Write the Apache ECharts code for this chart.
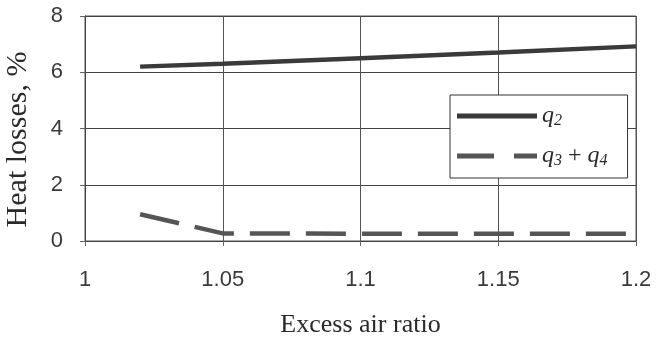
<!DOCTYPE html>
<html>
<head>
<meta charset="utf-8">
<script src="https://cdn.jsdelivr.net/npm/echarts@6/dist/echarts.min.js"></script>
<style>
  html, body { margin: 0; padding: 0; background: #fff; }
  #chart { width: 656px; height: 340px; }
</style>
</head>
<body>
<div id="chart"></div>
<script>
// values
var excessAir = [1.02, 1.05, 1.1, 1.15, 1.2];
var q2 = [6.2, 6.3, 6.5, 6.7, 6.92];
var q3q4 = [0.95, 0.27, 0.26, 0.26, 0.26];
var xTicks = [1, 1.05, 1.1, 1.15, 1.2];
var yTicks = [0, 2, 4, 6, 8];

function pairs(xs, ys) {
    return xs.map(function (x, i) { return [x, ys[i]]; });
}

var chartDom = document.getElementById('chart');
var myChart = echarts.init(chartDom);
var option = {
    animation: false,
    grid: {
        left: 85, right: 20, top: 16, bottom: 99,
        outerBoundsMode: 'none',
        containLabel: false,
        show: true,
        borderColor: '#555',
        borderWidth: 1
    },
    xAxis: {
        type: 'value',
        min: xTicks[0],
        max: xTicks[xTicks.length - 1],
        interval: 0.05,
        name: 'Excess air ratio',
        nameLocation: 'middle',
        nameGap: 71,
        nameTextStyle: { fontFamily: 'Liberation Serif', fontSize: 26, color: '#2a2a2a' },
        axisLine: { show: true, lineStyle: { color: '#444', width: 1 } },
        axisTick: { show: true, inside: false, length: 5, lineStyle: { color: '#666' } },
        axisLabel: {
            margin: 28,
            fontFamily: 'Liberation Sans', fontSize: 22, color: '#3a3a3a',
            formatter: function (v) { return String(parseFloat(v.toFixed(2))); }
        },
        splitLine: { show: true, lineStyle: { color: '#555', width: 1 } }
    },
    yAxis: {
        type: 'value',
        min: yTicks[0],
        max: yTicks[yTicks.length - 1],
        interval: 2,
        name: 'Heat losses, %',
        nameLocation: 'middle',
        nameGap: 52,
        nameRotate: 90,
        nameTextStyle: { fontFamily: 'Liberation Serif', fontSize: 30, color: '#2a2a2a', padding: [0, 22, 0, 0] },
        axisLine: { show: true, lineStyle: { color: '#444', width: 1 } },
        axisTick: { show: true, length: 5, lineStyle: { color: '#666' } },
        axisLabel: { margin: 22, fontFamily: 'Liberation Sans', fontSize: 22, color: '#3a3a3a' },
        splitLine: { show: true, lineStyle: { color: '#444', width: 1 } }
    },
    legend: {
        orient: 'vertical',
        left: 450,
        top: 95,
        padding: [8, 20, 9, 7],
        itemGap: 14,
        itemWidth: 80,
        itemHeight: 5,
        backgroundColor: '#fff',
        borderColor: '#333',
        borderWidth: 1,
        textStyle: {
            fontFamily: 'Liberation Serif', fontSize: 24, color: '#2a2a2a', lineHeight: 26,
            rich: {
                i: { fontFamily: 'Liberation Serif', fontStyle: 'italic', fontSize: 24, color: '#2a2a2a' },
                s: { fontFamily: 'Liberation Serif', fontStyle: 'italic', fontSize: 16, color: '#2a2a2a', padding: [9, 0, 0, 0] },
                p: { fontFamily: 'Liberation Serif', fontSize: 24, color: '#2a2a2a' }
            }
        },
        formatter: function (name) {
            if (name === 'q2') return '{i|q}{s|2}';
            return '{i|q}{s|3}{p| + }{i|q}{s|4}';
        },
        data: [
            { name: 'q2', icon: 'path://M0,0H80V5H0Z', itemStyle: { color: '#3a3a3a' } },
            { name: 'q3 + q4', icon: 'path://M0,0H37V5H0Z M57,0H80V5H57Z', itemStyle: { color: '#555' } }
        ]
    },
    series: [
        {
            name: 'q2',
            type: 'line',
            showSymbol: false,
            symbol: 'none',
            data: pairs(excessAir, q2),
            lineStyle: { color: '#3a3a3a', width: 4.5 },
            itemStyle: { color: '#3a3a3a' }
        },
        {
            name: 'q3 + q4',
            type: 'line',
            showSymbol: false,
            symbol: 'none',
            data: pairs(excessAir, q3q4),
            lineStyle: { color: '#555', width: 4.5, type: [40, 16] },
            itemStyle: { color: '#555' }
        }
    ]
};
option && myChart.setOption(option);
</script>
</body>
</html>
